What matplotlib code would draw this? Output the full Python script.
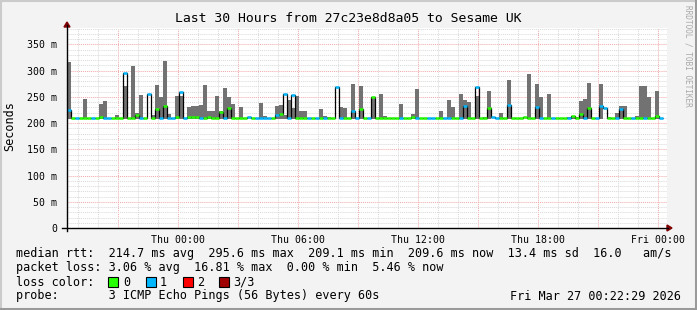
import matplotlib
matplotlib.use("Agg")
import matplotlib.pyplot as plt
import numpy as np
from matplotlib.patches import Rectangle, Polygon
from matplotlib.lines import Line2D

W, H = 697, 310
title = "Last 30 Hours from 27c23e8d8a05 to Sesame UK"

# one bar every 12 minutes, time in hours relative to Fri 00:00
t_start = -29.55
step = 0.2

# smoke top (max ping, ms), median rtt (ms), lost pings out of 3
smoke_top = [316, None, None, None, 246, None, None, None, 237, 242,
             None, None, 216, None, 271, None, 308, 220, 254, None,
             None, 216, 273, 249, 319,
             217, None, 252, 252, None, 231, 233, 233, 235, 273,
             223, 223, 252, 223, 266, 249, 237, None, 230, None,
             None, None, None, 239, 214,
             None, None, 233, 235, 216, 244, 228, 252, 223, 223,
             None, None, None, 227, 214, 212, None, None, 230, 229,
             None, 275, None, 271, None,
             None, 247, None, 256, 214, None, None, None, 237, None,
             None, 217, 265, None, None, None, None, None, 223, None,
             244, 230, None, 256, 244,
             240, None, 251, None, 212, 261, None, None, 219, None,
             282, None, None, None, None, 294, None, 275, 249, None,
             256, None, None, None, None,
             212, 213, 212, 241, 246, 277, None, None, 275, None,
             212, None, 219, 232, 232, None, None, 213, 270, 271,
             249, None, 261, None]
median = [224, 209, 209, 209, 209, 209, 209, 209, 211, 209,
          209, 209, 209, 209, 295, 209, 209, 215, 209, 209,
          256, 209, 227, 209, 233,
          209, 209, 211, 260, 209, 211, 211, 212, 209, 209,
          211, 209, 209, 221, 209, 228, 209, 209, 209, 209,
          211, 209, 209, 209, 209,
          209, 209, 215, 218, 256, 209, 254, 209, 209, 209,
          210, 209, 209, 209, 210, 209, 209, 268, 209, 209,
          209, 222, 209, 226, 209,
          209, 249, 209, 209, 209, 209, 209, 209, 209, 209,
          209, 211, 209, 209, 209, 209, 210, 209, 209, 209,
          210, 209, 209, 210, 233,
          209, 209, 269, 209, 209, 228, 212, 209, 209, 209,
          235, 209, 209, 209, 211, 209, 209, 230, 209, 209,
          209, 210, 209, 209, 209,
          209, 213, 209, 217, 209, 228, 209, 209, 232, 228,
          209, 209, 209, 227, 209, 209, 209, 209, 209, 209,
          209, 209, 214, 209]
loss = [1, 0, 1, 0, 0, 0, 1, 0, 0, 1,
        1, 0, 0, 0, 1, 0, 0, 0, 1, 0,
        1, 0, 0, 1, 0,
        1, 1, 0, 1, 1, 0, 0, 0, 1, 0,
        0, 0, 0, 0, 1, 0, 0, 0, 0, 0,
        1, 0, 1, 1, 1,
        1, 0, 1, 0, 1, 1, 1, 0, 0, 0,
        1, 0, 1, 0, 1, 0, 0, 1, 1, 0,
        0, 1, 1, 0, 0,
        1, 0, 0, 0, 0, 0, 0, 0, 1, 0,
        0, 0, 1, 0, 0, 1, 1, 0, 0, 1,
        1, 0, 0, 1, 1,
        0, 0, 1, 0, 0, 0, 1, 1, 0, 0,
        1, 0, 0, 0, 0, 0, 0, 1, 1, 0,
        0, 1, 0, 0, 0,
        1, 0, 0, 0, 1, 0, 0, 1, 1, 1,
        0, 0, 1, 1, 0, 0, 1, 0, 0, 1,
        0, 0, 0, 1]

loss_colors = ["#26ff00", "#00b8ff", "#ff0000", "#a00000"]
loss_labels = ["0", "1", "2", "3/3"]

x_ticks = [-24, -18, -12, -6, 0]
x_labels = ["Thu 00:00", "Thu 06:00", "Thu 12:00", "Thu 18:00", "Fri 00:00"]
y_ticks = [0, 50, 100, 150, 200, 250, 300, 350]
y_labels = ["0", "50 m", "100 m", "150 m", "200 m", "250 m", "300 m", "350 m"]

legend_lines = [
    "median rtt:  214.7 ms avg  295.6 ms max  209.1 ms min  209.6 ms now  13.4 ms sd  16.0   am/s",
    "packet loss: 3.06 % avg  16.81 % max  0.00 % min  5.46 % now",
    "loss color:",
    "probe:       3 ICMP Echo Pings (56 Bytes) every 60s",
]
stamp = "Fri Mar 27 00:22:29 2026"

mono = "DejaVu Sans Mono"


def fx(px):
    return px / W


def fy(py):
    return 1 - py / H


smoke_top = np.array(smoke_top, dtype=float)
median = np.array(median, dtype=float)
loss = np.array(loss)
left = t_start + step * np.arange(len(median))
edges = np.append(left, left[-1] + step)

fig = plt.figure(figsize=(W / 100, H / 100), dpi=100, facecolor="#f3f3f3")

# rrd style 3d frame
fig.add_artist(Line2D([fx(1), fx(1)], [fy(0), fy(H)], color="#cbcbcb", lw=1.5))
fig.add_artist(Line2D([fx(0), fx(W)], [fy(1), fy(1)], color="#cbcbcb", lw=1.5))
fig.add_artist(Line2D([fx(W - 1.5), fx(W - 1.5)], [fy(0), fy(H)], color="#9a9a9a", lw=2.2))
fig.add_artist(Line2D([fx(0), fx(W)], [fy(H - 1.5), fy(H - 1.5)], color="#9a9a9a", lw=2.2))

ax = fig.add_axes([fx(67), fy(228), 600 / W, 200 / H])
ax.set_facecolor("white")
ax.set_xlim(t_start, t_start + 30)
ax.set_ylim(0, 381)

# grid
ax.set_xticks(np.arange(-27, 1, 3))
ax.set_xticks(np.arange(-29, 1, 1), minor=True)
ax.set_yticks(y_ticks)
ax.set_yticks(np.arange(0, 381, 10), minor=True)
ax.grid(which="minor", color="#d9d9d9", lw=0.7, ls=(0, (1, 1)))
ax.grid(which="major", color="#f3a8a8", lw=0.7, ls=(0, (1, 1)))
ax.set_axisbelow(True)
ax.set_xticklabels([x_labels[x_ticks.index(t)] if t in x_ticks else "" for t in np.arange(-27, 1, 3)],
                   fontsize=7.1, family=mono)
ax.set_yticklabels(y_labels, fontsize=7.1, family=mono)
ax.tick_params(which="both", length=0)
ax.tick_params(axis="x", pad=5)
ax.tick_params(axis="y", pad=7)
for s in ax.spines.values():
    s.set_visible(False)

# smoke
has = ~np.isnan(smoke_top)
ax.bar(left[has], smoke_top[has] - 208, bottom=208, width=step, align="edge",
       color="#727272", linewidth=0, zorder=2)

# median line and loss colored pieces
ax.stairs(median, edges, baseline=None, color="black", lw=0.9, zorder=3)
for lvl, c in enumerate(loss_colors):
    m = loss == lvl
    if m.any():
        ax.hlines(median[m], left[m], left[m] + step, colors=c, lw=1.8, zorder=4)

# axis lines with arrows
fig.add_artist(Line2D([fx(62), fx(668)], [fy(228), fy(228)], color="black", lw=1))
fig.add_artist(Line2D([fx(67), fx(67)], [fy(231), fy(25)], color="black", lw=1))
fig.add_artist(Polygon([[fx(667), fy(225)], [fx(672), fy(228)], [fx(667), fy(231)]],
                       closed=True, color="#800000", transform=fig.transFigure))
fig.add_artist(Polygon([[fx(64), fy(27)], [fx(67), fy(22)], [fx(70), fy(27)]],
                       closed=True, color="#800000", transform=fig.transFigure))

fig.text(fx(348), fy(19), title, ha="center", va="center", fontsize=9.45, family=mono)
fig.text(fx(10), fy(126), "Seconds", ha="center", va="center", rotation=90,
         fontsize=8.5, family=mono)
fig.text(fx(688), fy(5), "RRDTOOL / TOBI OETIKER", ha="center", va="top", rotation=-90,
         fontsize=5.6, family=mono, color="#a8a8a8")

for i, line in enumerate(legend_lines):
    fig.text(fx(16), fy(254 + 14 * i), line, ha="left", va="center", fontsize=8.5, family=mono)
fig.text(fx(681), fy(296), stamp, ha="right", va="center", fontsize=8.5, family=mono)

sq_x = [108, 146, 183, 219]
lab_x = [123, 160, 197, 233]
for c, lab, sx, lx in zip(loss_colors, loss_labels, sq_x, lab_x):
    fig.add_artist(Rectangle((fx(sx), fy(287)), 10 / W, 10 / H, facecolor=c,
                             edgecolor="black", lw=0.8, transform=fig.transFigure))
    fig.text(fx(lx), fy(282), lab, ha="left", va="center", fontsize=8.5, family=mono)

fig.savefig("out.png", dpi=100, facecolor=fig.get_facecolor())
